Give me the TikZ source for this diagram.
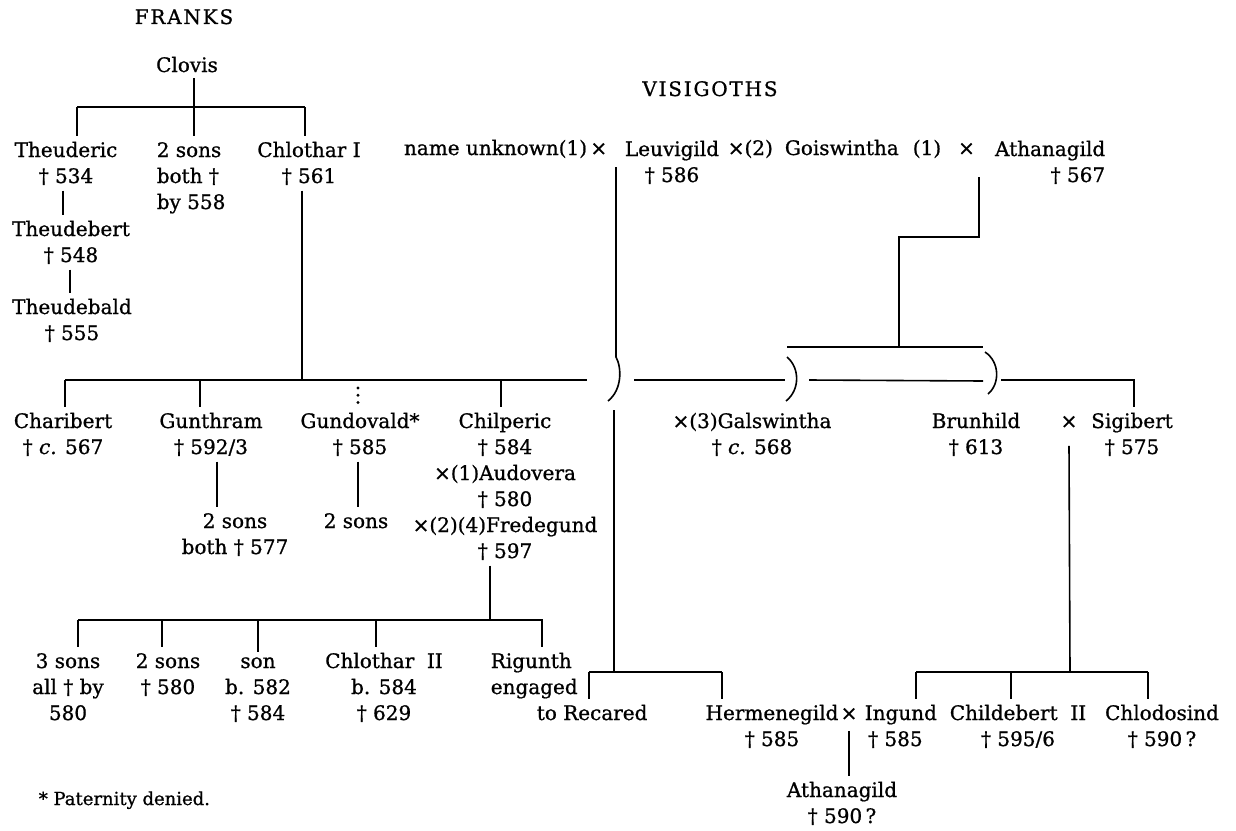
\documentclass[tikz,border=0pt]{standalone}
\usepackage{fontspec}
\setmainfont{DejaVu Serif}[FakeBold=0.9]
\begin{document}
\begin{tikzpicture}[x=0.5pt,y=-0.5pt,line width=0.8pt,
    person/.style={align=center,inner sep=2.5pt,anchor=base,font=\fontsize{10}{13}\selectfont},
    title/.style={inner sep=0pt,anchor=base,font=\fontsize{10}{13}\selectfont\addfontfeature{LetterSpace=9,FakeBold=0.9}},
    dotline/.style={line width=1.6pt,line cap=round,dash pattern=on 0pt off 3.6pt}]
    \useasboundingbox (0,0) rectangle (1236,830);
    % Headings
    \node[title] (franks) at (184,24) {FRANKS};
    \node[title] (visigoths) at (710,96) {VISIGOTHS};
    % Clovis and his sons (nodes sit on the baseline of their last line)
    \node[person] (clovis) at (187,72) {Clovis};
    \node[person] (theuderic) at (66,183) {Theuderic\\† 534};
    \node[person,align=left,anchor=base west] (twosonsA) at (151,209) {2 sons\\both †\\by 558};
    \node[person] (chlotharI) at (309,183) {Chlothar I\\† 561};
    \node[person] (theudebert) at (71,262) {Theudebert\\† 548};
    \node[person] (theudebald) at (72,340) {Theudebald\\† 555};
    % Visigoths
    \node[person,anchor=base east] (unknown) at (613,155) {name unknown(1)\,×};
    \node[person] (leuvigild) at (672,182) {Leuvigild\\† 586};
    \node[person,anchor=base west] (goiswintha) at (722,155)
        {×(2)\hspace{6pt}Goiswintha\hspace{7pt}(1)\hspace{8.5pt}×};
    \node[person,align=right,anchor=base east] (athanagild) at (1111,182) {Athanagild\\† 567};
    \coordinate (lwed) at (616,167);
    \coordinate (awed) at (979,177);
    % Sons of Chlothar I
    \node[person] (charibert) at (63,454) {Charibert\\† \textit{c.} 567};
    \node[person] (gunthram) at (211,454) {Gunthram\\† 592/3};
    \node[person] (gundovald) at (360,454) {Gundovald*\\† 585};
    \node[person] (chilperic) at (505,558) {Chilperic\\† 584\\×(1)Audovera\\† 580\\×(2)(4)Fredegund\\† 597};
    \node[person] (galswintha) at (752,454) {×(3)Galswintha\\† \textit{c.} 568};
    \node[person] (brunhild) at (976,454) {Brunhild\\† 613};
    \node[person] (bswed) at (1069,428) {×};
    \node[person] (sigibert) at (1132,454) {Sigibert\\† 575};
    \node[person] (gsons) at (235,554) {2 sons\\both † 577};
    \node[person] (gdsons) at (356,528) {2 sons};
    % Children of Chilperic
    \node[person] (threesons) at (68,720) {3 sons\\all † by\\580};
    \node[person] (twosonsB) at (168,694) {2 sons\\† 580};
    \node[person] (son) at (258,720) {son\\b. 582\\† 584};
    \node[person] (chlotharII) at (384,720) {Chlothar\ \ II\\b. 584\\† 629};
    \node[person,align=left,anchor=base west] (rigunth) at (485,694) {Rigunth\\engaged};
    \node[person,anchor=base west] (recared) at (531,720) {to Recared};
    % Children of Leuvigild and of Sigibert
    \node[person] (hermenegild) at (772,746) {Hermenegild\\† 585};
    \node[person] (hiwed) at (849,720) {×};
    \node[person,align=left,anchor=base west] (ingund) at (859,746) {Ingund\\\,† 585};
    \node[person] (childebert) at (1018,746) {Childebert\ \ II\\† 595/6};
    \node[person] (chlodosind) at (1162,746) {Chlodosind\\† 590\,?};
    \node[person] (athanagildB) at (842,823) {Athanagild\\† 590\,?};
    \node[person,anchor=base west,font=\fontsize{9}{11}\selectfont] (note) at (33,805) {* Paternity denied.};

    % Clovis
    \draw (194,107) -- (194,107 |- clovis.south);
    \draw (77,107) -- (305,107);
    \foreach \x/\n in {77/theuderic,194/twosonsA,305/chlotharI}
        \draw (\x,107) -- (\x,107 |- \n.north);
    \draw (63,0 |- theuderic.south) -- (63,0 |- theudebert.north);
    \draw (70,0 |- theudebert.south) -- (70,0 |- theudebald.north);
    % Chlothar I
    \draw (302,0 |- chlotharI.south) -- (302,380);
    \draw (65,380) -- (587,380);
    \foreach \x/\n in {65/charibert,200/gunthram,501/chilperic}
        \draw (\x,380) -- (\x,380 |- \n.north);
    \draw[dotline] (358,388) -- (358,0 |- gundovald.north);
    \draw (217,0 |- gunthram.south) -- (217,0 |- gsons.north);
    \draw (358,0 |- gundovald.south) -- (358,0 |- gdsons.north);
    % Chilperic
    \draw (490,0 |- chilperic.south) -- (490,620);
    \draw (78,620) -- (543,620);
    \foreach \x/\n in {78/threesons,162/twosonsB,258/son,376/chlotharII,542/rigunth}
        \draw (\x,620) -- (\x,620 |- \n.north);
    % Leuvigild, crossing the line of Chlothar's sons
    \draw (lwed) -- (616,357) .. controls (622,368) and (622,390) .. (608,401);
    \draw (614,410) -- (614,672);
    \draw (589,672) -- (722,672);
    \draw (589,672) -- (589,672 |- recared.north);
    \draw (722,672) -- (722,672 |- hermenegild.north);
    % Athanagild and his daughters
    \draw (awed) -- (979,237) -- (899,237) -- (899,347);
    \draw (787,347) -- (983,347);
    \draw (787,357) .. controls (800,368) and (800,390) .. (786,401);
    \draw (985,352) .. controls (1000,362) and (1000,384) .. (988,394);
    \draw (634,380) -- (785,380);
    \draw (809,380) -- (983,381);
    \draw (1001,380) -- (1134,380) -- (1134,380 |- sigibert.north);
    % Brunhild x Sigibert
    \draw ([yshift=-6pt]bswed.south) -- (1070,672);
    \draw (916,672) -- (1148,672);
    \foreach \x/\n in {916/ingund,1011/childebert,1148/chlodosind}
        \draw (\x,672) -- (\x,672 |- \n.north);
    % Hermenegild x Ingund
    \draw ([yshift=-2.5pt]hiwed.south) -- (hiwed.south |- athanagildB.north);
\end{tikzpicture}
\end{document}
